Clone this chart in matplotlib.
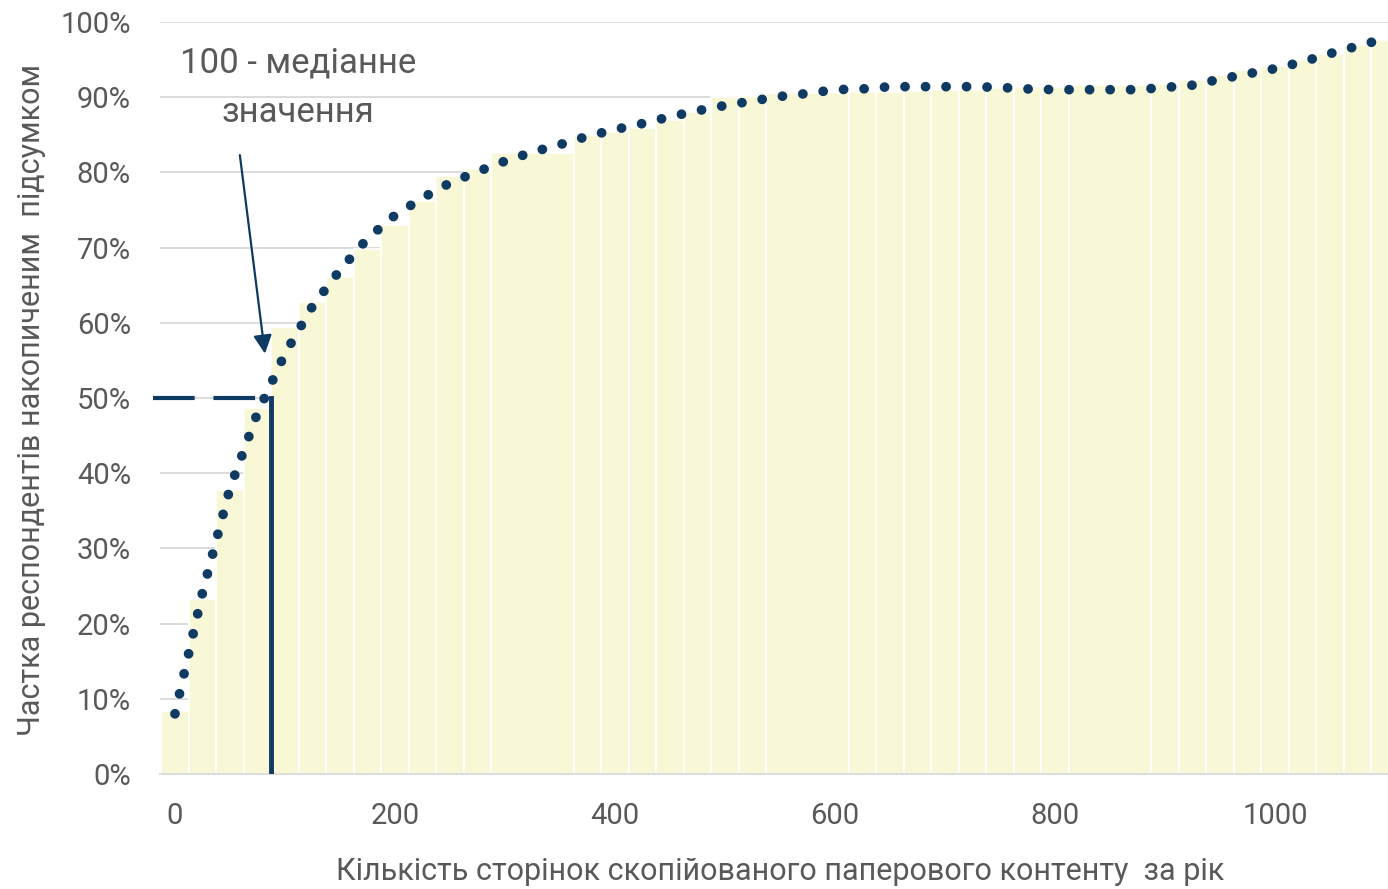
import numpy as np
import matplotlib.pyplot as plt

# Bars: left edges of each column (units of pages), last one ends at bar_end
bar_left = [-12.5, 12.5, 37.5, 62.5, 87.5, 112.5, 137.5, 162.5, 187.5, 212.5,
            237.5, 262.5, 287.5, 362.5, 387.5, 412.5, 437.5, 462.5, 487.5, 512.5,
            537.5, 612.5, 637.5, 662.5, 687.5, 712.5, 737.5, 762.5, 787.5, 812.5,
            887.5, 912.5, 937.5, 962.5, 987.5, 1012.5, 1037.5, 1062.5, 1087.5]
bar_end = 1112.5
bar_pct = [8.4, 23.3, 37.8, 48.7, 59.5, 62.8, 66.1, 69.8, 73.0, 76.2,
           79.5, 80.5, 82.6, 85.0, 85.4, 85.9, 87.0, 88.0, 90.0, 90.2,
           90.5, 90.7, 90.7, 90.8, 91.0, 91.0, 91.2, 91.4, 91.3, 91.6,
           91.8, 92.3, 93.0, 93.6, 94.1, 94.9, 95.8, 96.9, 97.6]

# Trend curve (dotted), read every 25 pages
trend_x = [0, 25, 50, 75, 100, 125, 150, 175, 200, 225, 250, 275, 300, 325,
           350, 375, 400, 425, 450, 475, 500, 525, 550, 575, 600, 625, 650,
           675, 700, 725, 750, 775, 800, 825, 850, 875, 900, 925, 950, 975,
           1000, 1025, 1050, 1075, 1100]
trend_pct = [8.0, 24.1, 38.0, 48.0, 55.9, 62.2, 67.0, 71.2, 74.3, 76.6,
             78.6, 80.1, 81.5, 82.7, 83.7, 84.8, 85.7, 86.5, 87.4, 88.2,
             88.9, 89.5, 90.1, 90.5, 91.0, 91.1, 91.4, 91.4, 91.4, 91.4,
             91.3, 91.1, 91.0, 91.0, 91.0, 91.0, 91.3, 91.6, 92.4, 93.1,
             93.8, 94.7, 95.8, 96.8, 97.8]

median_x = 87.5
median_y = 0.5

x_ticks = [0, 200, 400, 600, 800, 1000]
y_ticks = np.arange(0, 1.01, 0.1)

grey = '#595959'
navy = '#0E3A63'
fill = '#F9F8D6'
plt.rcParams['font.family'] = ['Roboto', 'DejaVu Sans']

fig = plt.figure(figsize=(13.88, 8.89), dpi=100)
ax = fig.add_axes([160 / 1388, 1 - 774 / 889, 1228 / 1388, 752 / 889])

widths = np.diff(bar_left + [bar_end])
ax.bar(bar_left, np.array(bar_pct) / 100, width=widths, align='edge',
       color=fill, edgecolor='white', linewidth=1.2, zorder=2)

ax.plot(trend_x, np.array(trend_pct) / 100, color=navy, lw=7,
        linestyle=(0, (0.01, 2.1)), dash_capstyle='round', zorder=4)

# median markers
ax.plot([-20, median_x], [median_y, median_y], color=navy, lw=3,
        linestyle=(0, (10, 4.5)), clip_on=False, zorder=3)
ax.plot([median_x, median_x], [0, median_y], color=navy, lw=3.5, zorder=3)

ax.annotate('', xy=(81.8, 0.559), xytext=(59, 0.823),
            arrowprops=dict(arrowstyle='-|>', color=navy, lw=1.6,
                            mutation_scale=28, shrinkA=0, shrinkB=0),
            zorder=5)
ax.text(112, 1 - (63 - 22) / 752, '100 - медіанне',
        ha='center', va='center', fontsize=25, color=grey)
ax.text(112, 1 - (112 - 22) / 752, 'значення',
        ha='center', va='center', fontsize=25, color=grey)

ax.set_xlim(-13.6, 1102.7)
ax.set_ylim(0, 1.0)
ax.set_xticks(x_ticks)
ax.set_yticks(y_ticks)
ax.set_yticklabels([f'{int(round(v * 100))}%' for v in y_ticks])
ax.yaxis.grid(True, color='#D9D9D9', lw=1.3, zorder=0)
ax.set_axisbelow(True)
ax.tick_params(length=0, labelsize=21, colors=grey)
ax.tick_params(axis='y', pad=21)
ax.tick_params(axis='x', pad=20)
for s in ['top', 'right', 'left']:
    ax.spines[s].set_visible(False)
ax.spines['bottom'].set_color('#D9D9D9')
ax.spines['bottom'].set_linewidth(1.3)

ax.set_xlabel('Кількість сторінок скопійованого паперового контенту  за рік',
              fontsize=22, color=grey, va='center')
ax.xaxis.set_label_coords(0.505, -0.13)
ax.set_ylabel('Частка респондентів накопиченим  підсумком',
              fontsize=22, color=grey, va='center')
ax.yaxis.set_label_coords(-0.105, 0.497)

fig.savefig('out.png', dpi=100)
